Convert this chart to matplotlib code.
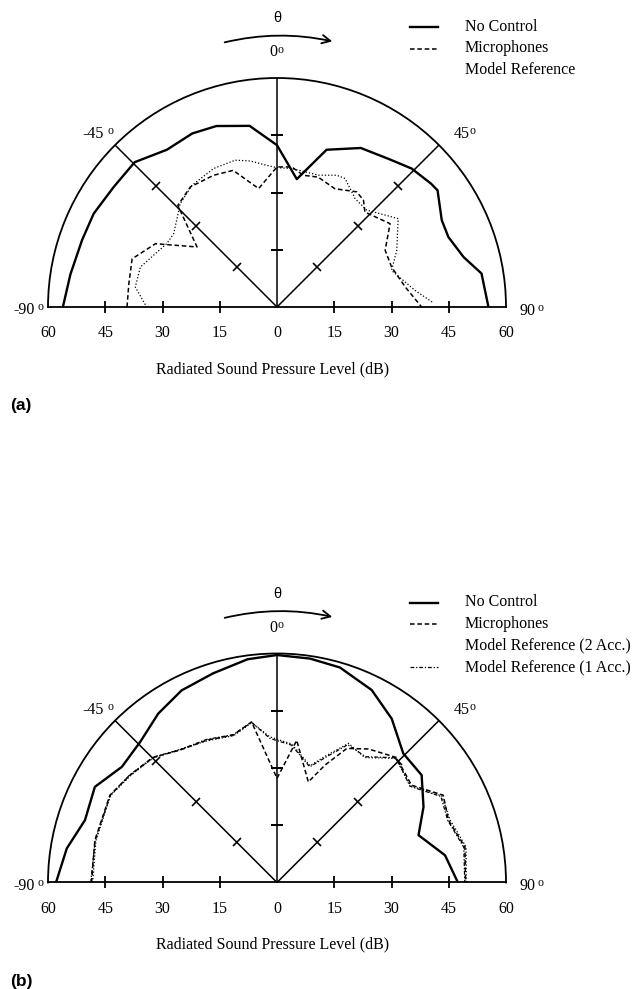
import numpy as np
import matplotlib
matplotlib.use('Agg')
import matplotlib.pyplot as plt
from matplotlib.lines import Line2D
from matplotlib.patches import FancyArrowPatch
from matplotlib.markers import MarkerStyle
from matplotlib.transforms import Affine2D

# --- data (angle in deg, level in dB) ---
nc_a_theta = [-90, -81, -71, -63, -53.7, -44.5, -35, -26, -18.5, -8.6, 0, 8.8, 17.5, 27.8,
              37.5, 44.2, 51.3, 54, 62.2, 67.8, 75, 80.7, 90]
nc_a = [56.1, 54.8, 54.0, 53.9, 53.1, 53.2, 50.3, 50.6, 50.0, 48.0, 42.4, 33.9, 43.2, 47.1,
        48.7, 50.6, 51.7, 52.0, 48.8, 48.5, 50.6, 54.3, 55.4]

mic_a_theta = [-90, -81, -71.6, -62.5, -53.1, -44.3, -35.8, -25.7, -17.8, -8.8, 0, 6, 11.3,
               17.6, 26.1, 34.7, 39, 42.8, 53.6, 62.3, 70.8, 81.1, 90]
mic_a = [39.3, 39.3, 40.0, 35.9, 26.2, 37.2, 38.8, 38.3, 37.6, 31.4, 36.7, 36.9, 35.2,
         35.7, 34.5, 36.7, 36.0, 33.9, 36.8, 32.0, 31.8, 34.0, 37.9]

mref_a_theta = [-89, -82, -73.7, -60, -54.6, -43.1, -34.9, -24.6, -15.9, -10.4, -4, 0, 6,
                17.4, 24.4, 27.9, 35.8, 42.8, 53.9, 64.7, 72.3, 83.1, 88.5]
mref_a = [34.5, 37.5, 37.3, 33.3, 33.2, 37.1, 38.9, 39.9, 40.0, 38.9, 37.2, 36.5, 36.5,
          36.2, 37.9, 38.1, 35.0, 34.6, 39.3, 34.7, 31.5, 36.4, 41.0]

nc_b_theta = [-90, -80.8, -72, -62.3, -53.3, -44.2, -35.1, -26.4, -17, -7.5, 0, 8.4, 16.3,
              26.2, 35, 44.4, 53.4, 62.7, 71.5, 80.8, 90]
nc_b = [57.9, 55.8, 52.9, 53.9, 50.7, 51.4, 54.1, 56.2, 57.3, 59.0, 59.6, 59.3, 58.7,
        56.2, 52.4, 47.3, 47.2, 43.2, 39.1, 44.6, 47.4]

mic_b_theta = [-90, -76.9, -62.4, -53.9, -44.7, -36.2, -26.3, -16.5, -9.0, 0, 7.9, 17.3,
               22.2, 27.5, 34.4, 43.7, 54.1, 62.3, 70, 79.3, 90]
mic_b = [48.6, 49.0, 49.4, 47.7, 46.1, 43.0, 41.6, 40.3, 42.6, 27.3, 37.6, 27.6,
         33.2, 39.6, 42.4, 45.3, 43.5, 49.2, 47.8, 50.1, 49.4]

mref_b_theta = [-90, -77, -62.4, -53.9, -44.7, -36.2, -26.3, -16.5, -9.0, -2.8, 6, 15.8,
                21, 27.2, 35.1, 43.7, 54.1, 62.3, 70, 79.3, 90]
mref2_b = [48.3, 48.7, 49.2, 47.5, 46.0, 43.2, 41.4, 40.1, 42.4, 38.2, 36.5, 31.8,
           35.5, 41.0, 40.0, 45.0, 43.2, 48.8, 48.2, 50.4, 49.6]
mref1_b = [48.8, 48.9, 49.3, 47.8, 46.2, 43.1, 41.8, 40.4, 42.5, 37.8, 36.2, 31.5,
           35.0, 40.6, 40.3, 45.2, 43.0, 48.5, 47.6, 49.8, 49.2]

tick_vals = [15, 30, 45]
xtick_labels = ['60', '45', '30', '15', '0', '15', '30', '45', '60']

W, H = 635, 989
SERIF = 'Liberation Serif'
FS = 11.5

fig = plt.figure(figsize=(W / 100, H / 100), dpi=100)


def fx(x):
    return x / W


def fy(y):
    return 1 - y / H


styles = {
    'solid': dict(color='black', lw=1.7, ls='-'),
    'dash': dict(color='black', lw=1.1, ls=(0, (3, 1.8))),
    'dot': dict(color='black', lw=0.9, ls=(0, (1, 1.6))),
    'dashdot': dict(color='black', lw=0.9, ls=(0, (3, 1.5, 1, 1.5))),
}


def sup_o(x, y):
    fig.text(fx(x), fy(y), 'o', ha='left', va='center', fontsize=8.5, family=SERIF)


def panel(y0, series, legend, tag):
    # half-disk: centre (277, y0+307), radius 229 px; the wedge is centred in a 4R x 2R box
    cx, cy, R = 277, y0 + 307, 229
    ax = fig.add_axes([fx(cx - 2 * R), fy(cy + R / 2), 4 * R / W, 2 * R / H],
                      projection='polar')
    ax.set_theta_zero_location('N')
    ax.set_theta_direction(-1)
    ax.set_thetamin(-90)
    ax.set_thetamax(90)
    ax.set_rlim(0, 60)
    ax.grid(False)
    ax.set_xticks([])
    ax.set_yticks([])
    ax.patch.set_alpha(0)
    for sp in ax.spines.values():
        sp.set_linewidth(1.3)
        sp.set_color('black')

    # radial guide lines at -45, 0, 45
    for th in [-45, 0, 45]:
        ax.plot(np.deg2rad([th, th]), [0, 60], color='black', lw=1.1)
    ax.plot(np.deg2rad([0] * 3), tick_vals, ls='none', marker='_', ms=9, mew=1.2, color='black')
    m_left = MarkerStyle('_', transform=Affine2D().rotate_deg(45))
    m_right = MarkerStyle('_', transform=Affine2D().rotate_deg(-45))
    ax.plot(np.deg2rad([-45] * 3), tick_vals, ls='none', marker=m_left, ms=8, mew=1.2, color='black')
    ax.plot(np.deg2rad([45] * 3), tick_vals, ls='none', marker=m_right, ms=8, mew=1.2, color='black')
    for th in [-90, 90]:
        ax.plot(np.deg2rad([th] * 3), tick_vals, ls='none', marker='|', ms=8, mew=1.3,
                color='black', clip_on=False)

    # baseline labels
    for v, lab in zip([-60, -45, -30, -15, 0, 15, 30, 45, 60], xtick_labels):
        th = np.deg2rad(90 if v >= 0 else -90)
        ax.annotate(lab, xy=(th, abs(v)), xytext=(0, -19), textcoords='offset points',
                    ha='center', va='center', fontsize=FS, family=SERIF, annotation_clip=False)

    for th, r, st in series:
        ax.plot(np.deg2rad(th), r, **styles[st])

    # angle labels
    fig.text(fx(104), fy(y0 + 134), '-45', ha='right', va='center', fontsize=FS, family=SERIF)
    sup_o(107, y0 + 131)
    fig.text(fx(454), fy(y0 + 134), '45', ha='left', va='center', fontsize=FS, family=SERIF)
    sup_o(470, y0 + 131)
    fig.text(fx(35), fy(y0 + 310), '-90', ha='right', va='center', fontsize=FS, family=SERIF)
    sup_o(38, y0 + 307)
    fig.text(fx(520), fy(y0 + 311), '90', ha='left', va='center', fontsize=FS, family=SERIF)
    sup_o(537, y0 + 308)
    fig.text(fx(273), fy(y0 + 52), '0', ha='center', va='center', fontsize=FS, family=SERIF)
    sup_o(278, y0 + 50)

    # theta and rotation arrow
    fig.text(fx(277), fy(y0 + 18), 'θ', ha='center', va='center', fontsize=10.5,
             family='Liberation Sans')
    arr = FancyArrowPatch(posA=(fx(222), fy(y0 + 43)), posB=(fx(335), fy(y0 + 42)),
                          transform=fig.transFigure, connectionstyle='arc3,rad=-0.12',
                          arrowstyle='->,head_length=6,head_width=3', lw=1.3, color='black')
    fig.patches.append(arr)

    fig.text(fx(273), fy(y0 + 369), 'Radiated Sound Pressure Level (dB)', ha='center',
             va='center', fontsize=FS, family=SERIF)
    fig.text(fx(10), fy(y0 + 406), tag, ha='left', va='center', fontsize=12.5,
             family='Liberation Sans', weight='bold')

    # legend
    for i, (lab, st) in enumerate(legend):
        yy = fy(y0 + 27 + 21.5 * i)
        if st is not None:
            fig.add_artist(Line2D([fx(410), fx(438)], [yy, yy], transform=fig.transFigure,
                                  **styles[st]))
        fig.text(fx(465), yy, lab, ha='left', va='center', fontsize=FS, family=SERIF)


panel(0,
      [(nc_a_theta, nc_a, 'solid'), (mic_a_theta, mic_a, 'dash'), (mref_a_theta, mref_a, 'dot')],
      [('No Control', 'solid'), ('Microphones', 'dash'), ('Model Reference', None)],
      '(a)')
panel(575.5,
      [(nc_b_theta, nc_b, 'solid'), (mic_b_theta, mic_b, 'dash'),
       (mref_b_theta, mref2_b, 'dot'), (mref_b_theta, mref1_b, 'dashdot')],
      [('No Control', 'solid'), ('Microphones', 'dash'), ('Model Reference (2 Acc.)', None),
       ('Model Reference (1 Acc.)', 'dashdot')],
      '(b)')

fig.savefig('out.png', dpi=100)
